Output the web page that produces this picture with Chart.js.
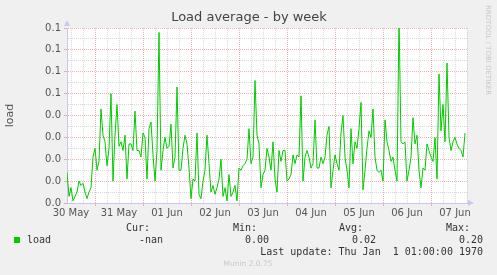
<!DOCTYPE html>
<html>
<head>
<meta charset="utf-8">
<script src="https://cdn.jsdelivr.net/npm/chart.js@4"></script>
<style>
  html, body { margin: 0; padding: 0; background: #f0f0f0; }
  canvas { display: block; }
</style>
</head>
<body>
<canvas id="loadChart" width="497" height="275"></canvas>
<script>
// hours counted from 30 May 00:00, one value per hour
var startHour = 10;
var dayLabels = ['30 May', '31 May', '01 Jun', '02 Jun', '03 Jun', '04 Jun', '05 Jun', '06 Jun', '07 Jun'];
var loadValues = [
  0.014, 0.003, 0.007, 0.001, 0.003, 0.005, 0.010, 0.008, 0.009, 0.005,
  0.002, 0.005, 0.007, 0.021, 0.025, 0.015, 0.019, 0.043, 0.031, 0.028,
  0.017, 0.025, 0.050, 0.010, 0.031, 0.045, 0.026, 0.028, 0.024, 0.031,
  0.011, 0.027, 0.027, 0.024, 0.042, 0.024, 0.024, 0.021, 0.032, 0.030,
  0.011, 0.034, 0.037, 0.022, 0.010, 0.024, 0.078, 0.015, 0.024, 0.030,
  0.025, 0.026, 0.036, 0.016, 0.021, 0.053, 0.015, 0.015, 0.025, 0.031,
  0.027, 0.016, 0.002, 0.011, 0.010, 0.032, 0.004, 0.002, 0.010, 0.015,
  0.031, 0.018, 0.005, 0.008, 0.004, 0.007, 0.011, 0.020, 0.003, 0.007,
  0.001, 0.013, 0.003, 0.005, 0.008, 0.001, 0.016, 0.015, 0.017, 0.018,
  0.020, 0.034, 0.018, 0.021, 0.056, 0.031, 0.027, 0.007, 0.013, 0.015,
  0.025, 0.021, 0.015, 0.028, 0.011, 0.005, 0.024, 0.019, 0.024, 0.024,
  0.010, 0.011, 0.013, 0.022, 0.018, 0.022, 0.021, 0.049, 0.010, 0.021,
  0.024, 0.021, 0.016, 0.018, 0.038, 0.016, 0.016, 0.021, 0.018, 0.021,
  0.031, 0.035, 0.007, 0.015, 0.022, 0.018, 0.015, 0.032, 0.040, 0.021,
  0.015, 0.007, 0.034, 0.018, 0.028, 0.025, 0.034, 0.046, 0.006, 0.015,
  0.025, 0.033, 0.030, 0.043, 0.021, 0.015, 0.014, 0.015, 0.010, 0.038,
  0.028, 0.024, 0.019, 0.021, 0.015, 0.010, 0.085, 0.028, 0.027, 0.028,
  0.010, 0.015, 0.021, 0.039, 0.027, 0.031, 0.015, 0.007, 0.016, 0.015,
  0.027, 0.024, 0.021, 0.019, 0.030, 0.011, 0.059, 0.033, 0.045, 0.028,
  0.064, 0.030, 0.024, 0.028, 0.030, 0.027, 0.025, 0.024, 0.021, 0.032
];
var legendHeads = ['Cur:', 'Min:', 'Avg:', 'Max:'];
var legendNums = ['-nan', '0.00', '0.02', '0.20'];
var lastUpdate = 'Last update: Thu Jan  1 01:00:00 1970';

var points = [];
for (var i = 0; i < loadValues.length; i++) {
  points.push({ x: startHour + i, y: loadValues[i] });
}

var majorRed = 'rgba(230, 110, 110, 0.55)';
var minorGrey = 'rgba(160, 160, 160, 0.4)';
var axisBlue = '#c8c8f0';

var munin = {
  id: 'munin',
  beforeDraw: function(chart) {
    var a = chart.chartArea, c = chart.ctx;
    c.save();
    c.fillStyle = '#f0f0f0';
    c.fillRect(0, 0, chart.width, chart.height);
    c.fillStyle = '#ffffff';
    c.fillRect(a.left, a.top, a.right - a.left, a.bottom - a.top);
    c.restore();
  },
  afterDraw: function(chart) {
    var a = chart.chartArea, c = chart.ctx;
    c.save();
    // title
    c.fillStyle = '#444';
    c.font = '13px "DejaVu Sans"';
    c.textAlign = 'center';
    c.textBaseline = 'middle';
    c.fillText('Load average - by week', 249, 18);

    // arrows
    c.fillStyle = axisBlue;
    c.beginPath();
    c.moveTo(a.left - 3, a.top - 2);
    c.lineTo(a.left + 3, a.top - 2);
    c.lineTo(a.left, a.top - 8);
    c.fill();
    c.beginPath();
    c.moveTo(a.right + 1, a.bottom - 3);
    c.lineTo(a.right + 1, a.bottom + 3);
    c.lineTo(a.right + 7, a.bottom);
    c.fill();

    // watermark
    c.save();
    c.translate(488, 5);
    c.rotate(Math.PI / 2);
    c.fillStyle = '#c8c8c8';
    c.font = '7px "DejaVu Sans"';
    c.textAlign = 'left';
    c.textBaseline = 'middle';
    c.fillText('RRDTOOL / TOBI OETIKER', 0, 0);
    c.restore();

    // legend
    c.font = '10px "DejaVu Sans Mono"';
    c.fillStyle = '#333';
    c.textBaseline = 'middle';
    var headRight = [150, 257, 363, 470];
    var numRight = [163, 269, 376, 483];
    c.textAlign = 'right';
    for (var k = 0; k < legendHeads.length; k++) {
      c.fillText(legendHeads[k], headRight[k], 228);
      c.fillText(legendNums[k], numRight[k], 240);
    }
    c.fillText(lastUpdate, 483, 252);
    c.textAlign = 'left';
    c.fillText('load', 27, 240);
    c.fillStyle = '#00cc00';
    c.fillRect(14, 237, 6, 6);

    c.fillStyle = '#c8c8c8';
    c.font = '7.5px "DejaVu Sans"';
    c.textAlign = 'center';
    c.fillText('Munin 2.0.75', 248, 264);
    c.restore();
  }
};

var ctx = document.getElementById('loadChart');
var loadChart = new Chart(ctx, {
  type: 'line',
  data: {
    datasets: [{
      label: 'load',
      data: points,
      borderColor: '#00cc00',
      borderWidth: 1,
      pointRadius: 0,
      tension: 0,
      fill: false
    }]
  },
  options: {
    responsive: false,
    animation: false,
    devicePixelRatio: 1,
    layout: { padding: { top: 28, left: 0, right: 30, bottom: 52 } },
    plugins: { legend: { display: false }, tooltip: { enabled: false } },
    scales: {
      x: {
        type: 'linear',
        min: startHour,
        max: startHour + 200,
        afterFit: function(s) { s.height = 20; },
        ticks: {
          stepSize: 6,
          includeBounds: false,
          autoSkip: false,
          maxRotation: 0,
          padding: 1,
          color: '#555',
          font: { family: 'DejaVu Sans', size: 10 },
          callback: function(v) {
            if (v % 24 !== 12) return '';
            return dayLabels[(v - 12) / 24];
          }
        },
        grid: {
          lineWidth: 1,
          tickLength: 3,
          color: function(c) {
            return c.tick && c.tick.value % 24 === 0 ? majorRed : minorGrey;
          },
          tickColor: function(c) {
            return c.tick && c.tick.value % 24 === 0 ? majorRed : 'rgba(0,0,0,0)';
          }
        },
        border: { display: true, color: axisBlue, width: 1, dash: [1, 1] }
      },
      y: {
        min: 0,
        max: 0.08,
        afterFit: function(s) { s.width = 67; },
        title: {
          display: true,
          text: 'load',
          color: '#555',
          font: { family: 'DejaVu Sans', size: 11 }
        },
        ticks: {
          stepSize: 0.005,
          autoSkip: false,
          padding: 3,
          color: '#555',
          font: { family: 'DejaVu Sans', size: 10 },
          callback: function(v) {
            var r = Math.round(v * 1000);
            if (r % 10 !== 0) return '';
            return (r / 1000).toFixed(1);
          }
        },
        grid: {
          lineWidth: 1,
          tickLength: 3,
          color: function(c) {
            return c.tick && Math.round(c.tick.value * 1000) % 10 === 0 ? majorRed : minorGrey;
          },
          tickColor: function(c) {
            return c.tick && Math.round(c.tick.value * 1000) % 10 === 0 ? majorRed : 'rgba(0,0,0,0)';
          }
        },
        border: { display: true, color: axisBlue, width: 1, dash: [1, 1] }
      }
    }
  },
  plugins: [munin]
});
</script>
</body>
</html>
